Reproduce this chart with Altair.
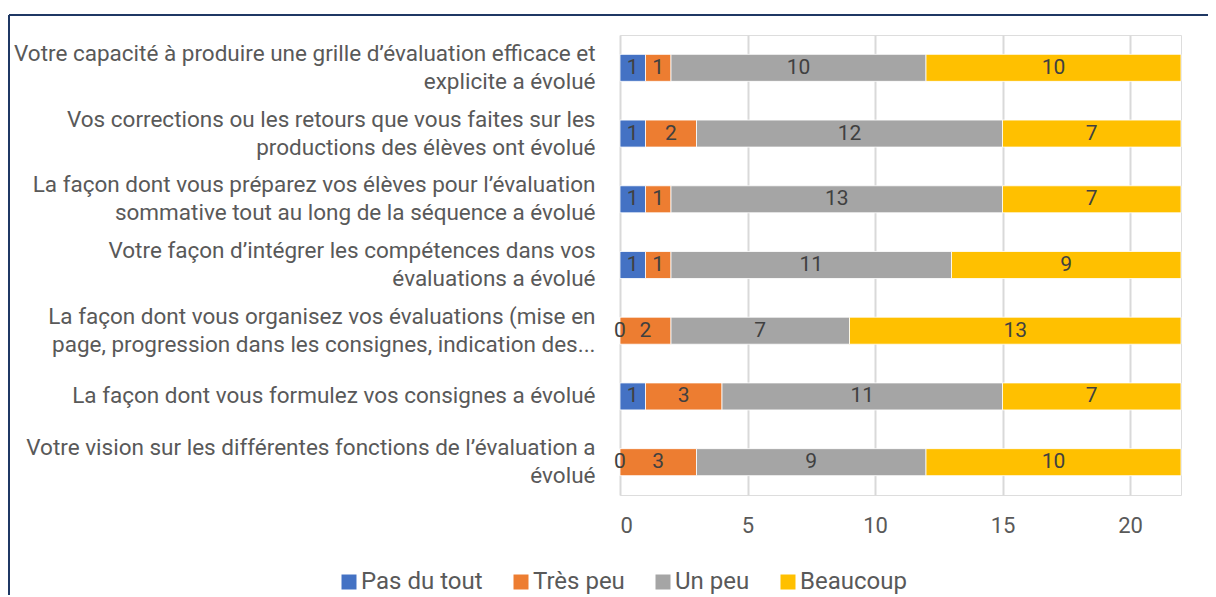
import altair as alt
import pandas as pd

categories = [
    "Votre capacité à produire une grille d’évaluation efficace et\nexplicite  a évolué",
    "Vos corrections ou les retours que vous faites sur les\nproductions des élèves ont évolué",
    "La façon dont vous préparez vos élèves pour l’évaluation\nsommative tout au long de la séquence a évolué",
    "Votre façon d’intégrer les compétences dans vos\névaluations a évolué",
    "La façon dont vous organisez vos évaluations (mise en\npage, progression dans les consignes, indication des...",
    "La façon dont vous formulez vos consignes a évolué",
    "Votre vision sur les différentes fonctions de l’évaluation a\névolué",
]
series = ["Pas du tout", "Très peu", "Un peu", "Beaucoup"]
pas_du_tout = [1, 1, 1, 1, 0, 1, 0]
tres_peu = [1, 2, 1, 1, 2, 3, 3]
un_peu = [10, 12, 13, 11, 7, 11, 9]
beaucoup = [10, 7, 7, 9, 13, 7, 10]
colors = ["#4472C4", "#ED7D31", "#A5A5A5", "#FFC000"]
x_ticks = [0, 5, 10, 15, 20]

rows = []
for si, (name, vals) in enumerate(zip(series, [pas_du_tout, tres_peu, un_peu, beaucoup])):
    for cat, v in zip(categories, vals):
        rows.append({"cat": cat, "series": name, "s_idx": si, "value": v})
df = pd.DataFrame(rows)

FONT = "Roboto"
GREY = "#595959"

base = alt.Chart(df).transform_stack(
    stack="value", groupby=["cat"], as_=["v0", "v1"],
    sort=[alt.SortField("s_idx", order="ascending")]
).transform_calculate(mid="(datum.v0 + datum.v1) / 2")

bars = base.mark_bar(size=27, stroke="white", strokeWidth=0.8).encode(
    y=alt.Y("cat:N", sort=categories, axis=alt.Axis(
        title=None, labelExpr="split(datum.label, '\\n')", labelFontSize=22.5,
        labelColor=GREY, labelFont=FONT, labelLineHeight=28, labelPadding=25,
        labelOffset={"condition": {"test": "indexof(datum.value, '\\n') >= 0", "value": -14}, "value": 0},
        ticks=False, domain=False, labelLimit=0, grid=False)),
    x=alt.X("v0:Q", scale=alt.Scale(domain=[0, 22], nice=False, zero=True), axis=alt.Axis(
        values=x_ticks, title=None, grid=True, gridColor="#D9D9D9", gridWidth=2,
        domain=False, ticks=False, labelFontSize=22, labelColor=GREY, labelFont=FONT,
        labelPadding=20)),
    x2="v1:Q",
    color=alt.Color("series:N", scale=alt.Scale(domain=series, range=colors),
                    legend=alt.Legend(
                        title=None, orient="none", legendX=-283, legendY=535,
                        direction="horizontal", symbolType="square", symbolSize=225,
                        symbolStrokeWidth=0, labelFontSize=24, labelColor=GREY,
                        labelFont=FONT, columnPadding=26, labelOffset=0)),
    order=alt.Order("s_idx:Q"),
)

labels = base.mark_text(fontSize=21, font=FONT, color="#404040", baseline="middle").encode(
    y=alt.Y("cat:N", sort=categories),
    x=alt.X("mid:Q"),
    text=alt.Text("value:Q"),
)

frame_left = alt.Chart(pd.DataFrame({"a": [0]})).mark_rule(color="#1F3864", strokeWidth=2).encode(
    x=alt.value(-611), y=alt.value(-20), y2=alt.value(600))
frame_top = alt.Chart(pd.DataFrame({"a": [0]})).mark_rule(color="#1F3864", strokeWidth=2).encode(
    x=alt.value(-611), x2=alt.value(600), y=alt.value(-20))

chart = alt.layer(bars, labels, frame_left, frame_top).properties(
    width=561, height=460,
    autosize=alt.AutoSizeParams(type="none"),
    padding={"left": 612, "top": 27, "right": 27, "bottom": 100},
).configure_view(stroke=None).configure(background="white")

chart.save("out.html", embed_options={"renderer": "svg", "actions": False})
